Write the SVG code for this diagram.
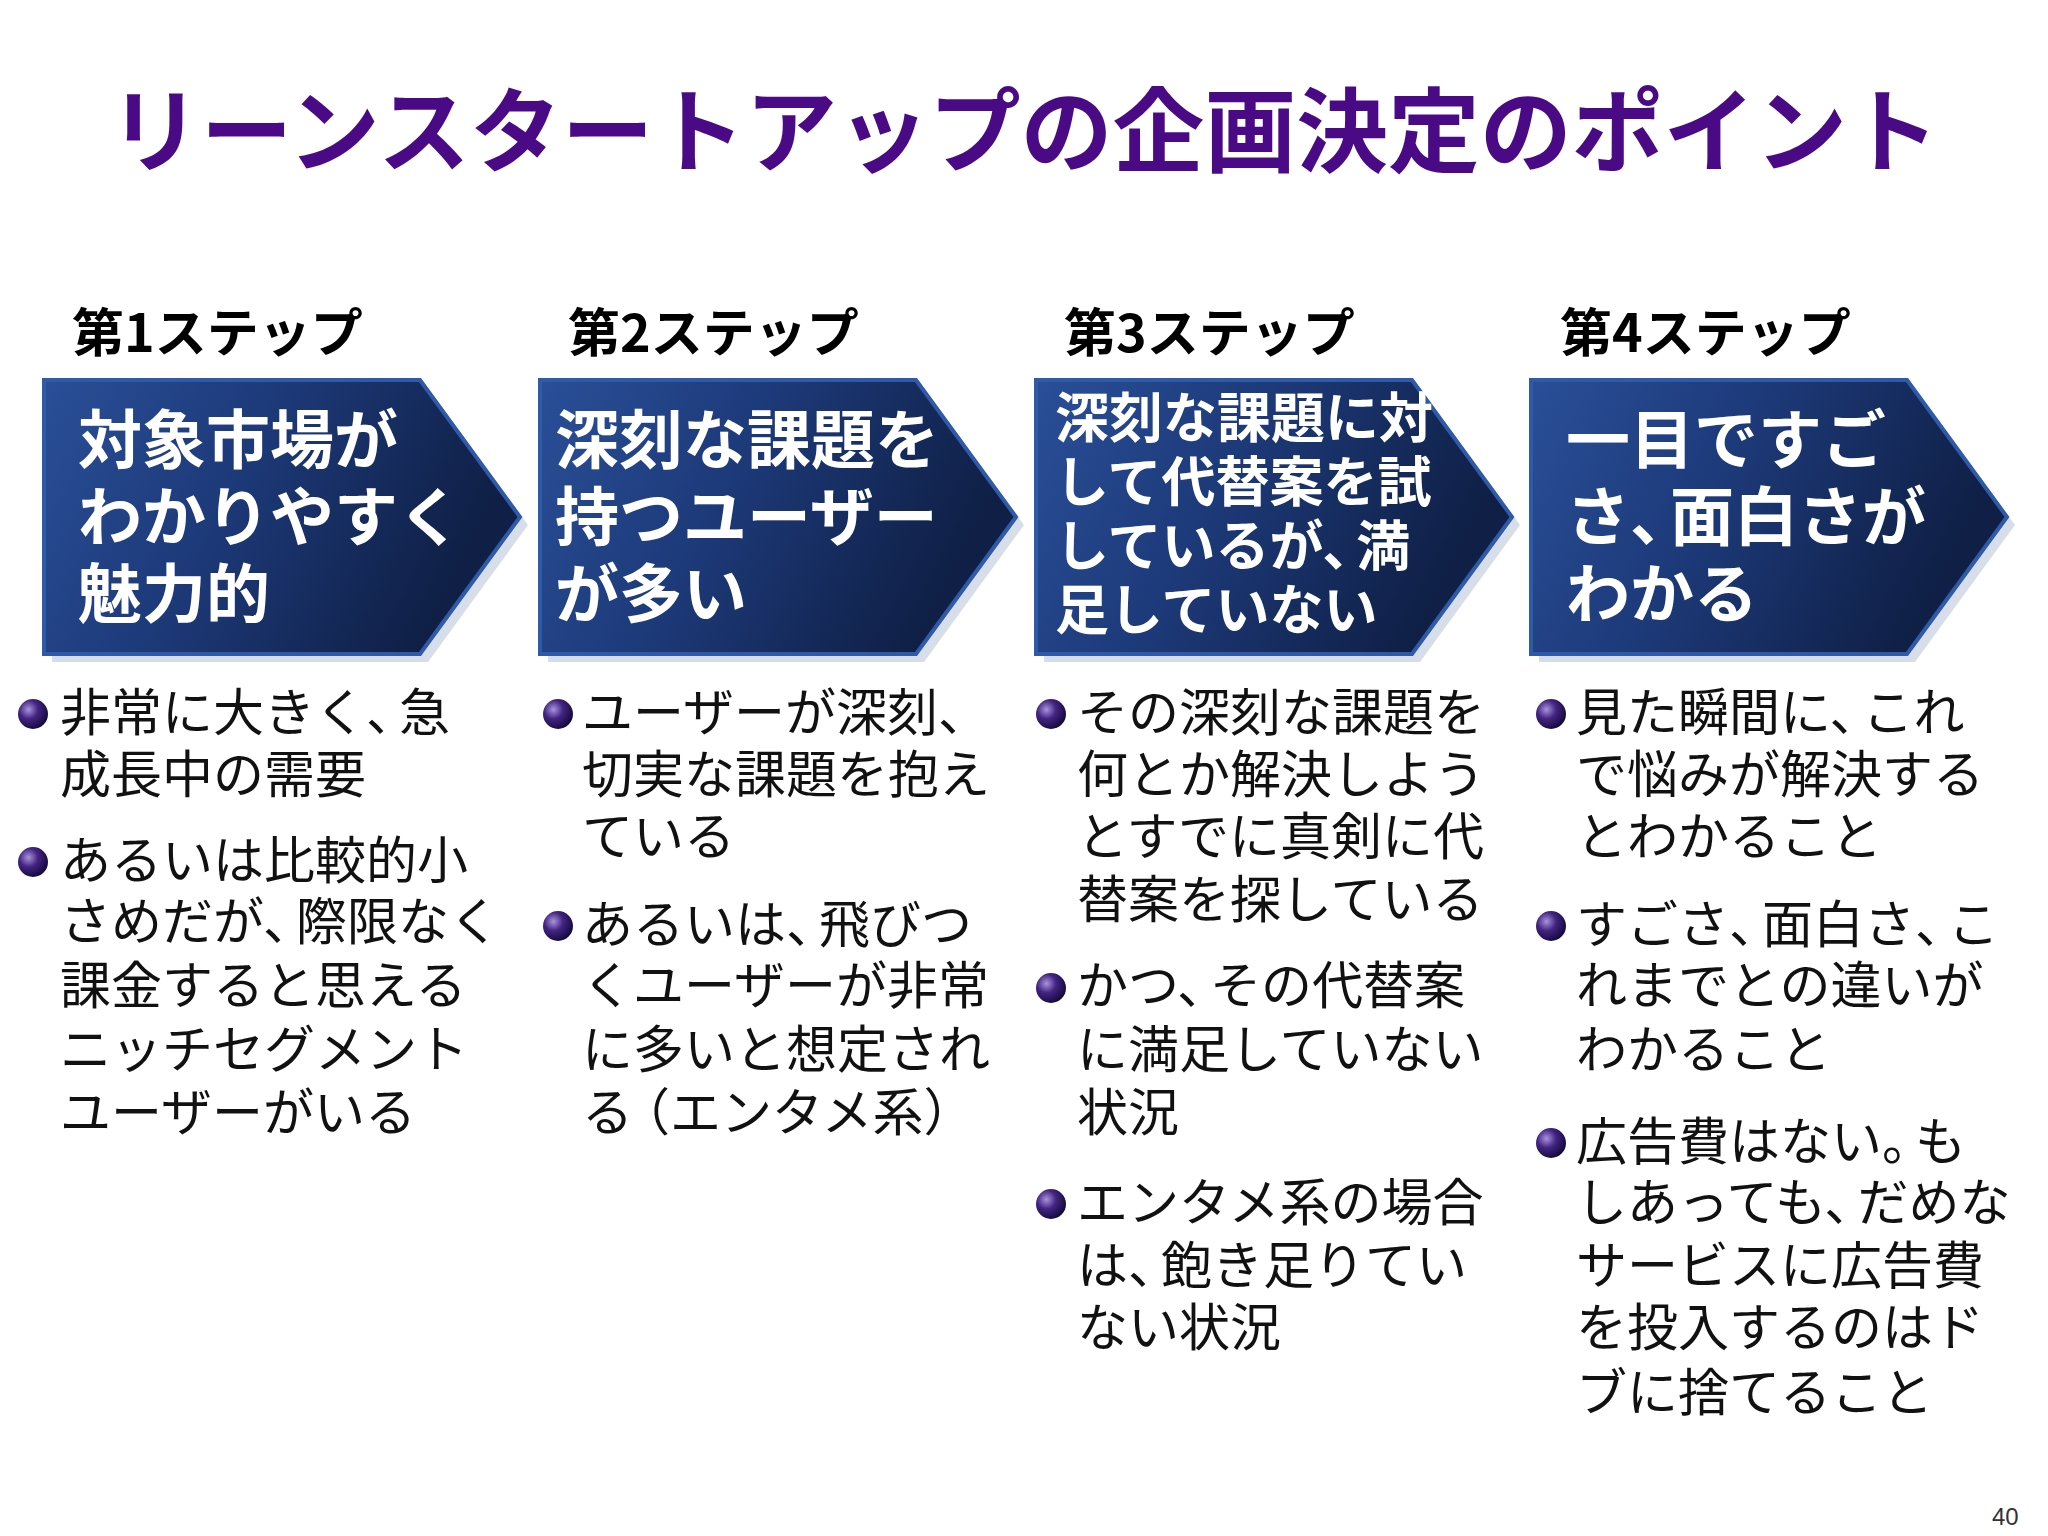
<svg xmlns="http://www.w3.org/2000/svg" width="2048" height="1536" viewBox="0 0 2048 1536">
<defs>
<linearGradient id="ag" x1="0" y1="0" x2="1" y2="0.3">
<stop offset="0" stop-color="#2a4f98"/><stop offset="0.45" stop-color="#1d3a7a"/><stop offset="1" stop-color="#0f1f45"/>
</linearGradient>
<radialGradient id="bg" cx="0.35" cy="0.35" r="0.7">
<stop offset="0" stop-color="#a993dc"/><stop offset="0.45" stop-color="#432482"/><stop offset="1" stop-color="#140838"/>
</radialGradient>
<symbol id="arrow" overflow="visible">
<polygon points="8,8 384,8 484,145 384,282 8,282" fill="#c8d0e0" opacity="0.7"/>
<polygon points="0,0 376,0 476,137 376,274 0,274" fill="url(#ag)" stroke="#2f5aa8" stroke-width="4"/>
</symbol>
</defs>
<style>
.title{font-family:"Noto Sans CJK JP","Noto Sans CJK SC",sans-serif;font-weight:bold;font-size:92px;fill:#4a0a86}
.step{font-family:"Noto Sans CJK JP",sans-serif;font-weight:bold;font-size:52px;fill:#000}
.at{font-family:"Noto Sans CJK JP",sans-serif;font-weight:bold;font-size:64px;fill:#fff}
.as{font-family:"Noto Sans CJK JP",sans-serif;font-weight:bold;font-size:54px;fill:#fff}
.b{font-family:"Noto Sans CJK JP",sans-serif;font-size:51px;fill:#111}
.pn{font-family:"Liberation Sans",sans-serif;font-size:24px;fill:#333}
</style>
<rect width="2048" height="1536" fill="#fff"/>
<text class="title" x="1024" y="165" text-anchor="middle" textLength="1830" lengthAdjust="spacingAndGlyphs">リーンスタートアップの企画決定のポイント</text>

<g id="step1">
<text class="step" x="72" y="352">第1ステップ</text>
<use href="#arrow" x="44" y="380"/>
<text class="at" x="78" y="463">対象市場が</text>
<text class="at" x="78" y="540">わかりやすく</text>
<text class="at" x="78" y="617">魅力的</text>
<circle cx="33" cy="714" r="15" fill="url(#bg)"/>
<text class="b" x="60" y="731">非常に大きく、<tspan dx="-18">急</tspan></text>
<text class="b" x="60" y="793">成長中の需要</text>
<circle cx="33" cy="862" r="15" fill="url(#bg)"/>
<text class="b" x="60" y="879">あるいは比較的小</text>
<text class="b" x="60" y="940">さめだが、<tspan dx="-18">際限なく</tspan></text>
<text class="b" x="60" y="1004">課金すると思える</text>
<text class="b" x="60" y="1068">ニッチセグメント</text>
<text class="b" x="60" y="1131">ユーザーがいる</text>
</g>

<g id="step2">
<text class="step" x="568" y="352">第2ステップ</text>
<use href="#arrow" x="540" y="380"/>
<text class="at" x="555" y="463">深刻な課題を</text>
<text class="at" x="555" y="540">持つユーザー</text>
<text class="at" x="555" y="617">が多い</text>
<circle cx="558" cy="714" r="15" fill="url(#bg)"/>
<text class="b" x="582" y="731">ユーザーが深刻、</text>
<text class="b" x="582" y="793">切実な課題を抱え</text>
<text class="b" x="582" y="855">ている</text>
<circle cx="558" cy="926" r="15" fill="url(#bg)"/>
<text class="b" x="582" y="943">あるいは、<tspan dx="-18">飛びつ</tspan></text>
<text class="b" x="582" y="1004">くユーザーが非常</text>
<text class="b" x="582" y="1068">に多いと想定され</text>
<text class="b" x="582" y="1131">る<tspan dx="-14">（エンタメ系）</tspan></text>
</g>

<g id="step3">
<text class="step" x="1064" y="352">第3ステップ</text>
<use href="#arrow" x="1036" y="380"/>
<text class="as" x="1055" y="438">深刻な課題に対</text>
<text class="as" x="1055" y="502">して代替案を試</text>
<text class="as" x="1055" y="566">しているが、<tspan dx="-20">満</tspan></text>
<text class="as" x="1055" y="630">足していない</text>
<circle cx="1051" cy="714" r="15" fill="url(#bg)"/>
<text class="b" x="1077" y="731">その深刻な課題を</text>
<text class="b" x="1077" y="793">何とか解決しよう</text>
<text class="b" x="1077" y="855">とすでに真剣に代</text>
<text class="b" x="1077" y="918">替案を探している</text>
<circle cx="1051" cy="988" r="15" fill="url(#bg)"/>
<text class="b" x="1077" y="1004">かつ、<tspan dx="-18">その代替案</tspan></text>
<text class="b" x="1077" y="1068">に満足していない</text>
<text class="b" x="1077" y="1131">状況</text>
<circle cx="1051" cy="1204" r="15" fill="url(#bg)"/>
<text class="b" x="1077" y="1221">エンタメ系の場合</text>
<text class="b" x="1077" y="1284">は、<tspan dx="-18">飽き足りてい</tspan></text>
<text class="b" x="1077" y="1346">ない状況</text>
</g>

<g id="step4">
<text class="step" x="1560" y="352">第4ステップ</text>
<use href="#arrow" x="1531" y="380"/>
<text class="at" x="1566" y="463">一目ですご</text>
<text class="at" x="1566" y="540">さ、<tspan dx="-24">面白さが</tspan></text>
<text class="at" x="1566" y="617">わかる</text>
<circle cx="1551" cy="714" r="15" fill="url(#bg)"/>
<text class="b" x="1576" y="731">見た瞬間に、<tspan dx="-18">これ</tspan></text>
<text class="b" x="1576" y="793">で悩みが解決する</text>
<text class="b" x="1576" y="855">とわかること</text>
<circle cx="1551" cy="926" r="15" fill="url(#bg)"/>
<text class="b" x="1576" y="943">すごさ、<tspan dx="-18">面白さ、</tspan><tspan dx="-18">こ</tspan></text>
<text class="b" x="1576" y="1004">れまでとの違いが</text>
<text class="b" x="1576" y="1068">わかること</text>
<circle cx="1551" cy="1143" r="15" fill="url(#bg)"/>
<text class="b" x="1576" y="1160">広告費はない。<tspan dx="-18">も</tspan></text>
<text class="b" x="1576" y="1221">しあっても、<tspan dx="-18">だめな</tspan></text>
<text class="b" x="1576" y="1284">サービスに広告費</text>
<text class="b" x="1576" y="1346">を投入するのはド</text>
<text class="b" x="1576" y="1411">ブに捨てること</text>
</g>
<g id="connectors"/>
<text class="pn" x="1992" y="1525">40</text>
</svg>
